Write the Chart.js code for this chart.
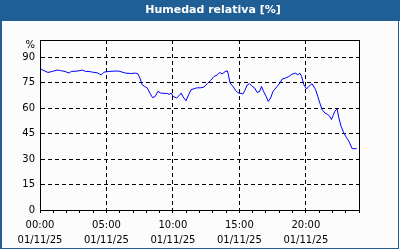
<!DOCTYPE html>
<html><head><meta charset="utf-8">
<script src="https://cdn.jsdelivr.net/npm/chart.js@4/dist/chart.umd.min.js"></script>
<style>html,body{margin:0;padding:0;background:#fbfcfb}#c{display:block}</style>
</head><body>
<canvas id="c" width="400" height="250"></canvas>
<script>
const chartTitle = 'Humedad relativa [%]';
const times = ['00:00','00:10','00:36','00:55','01:18','01:33','01:53','02:11','02:21','02:48','03:11','03:26','03:41','03:56','04:18','04:37','04:49','05:11','05:34','05:56','06:27','06:49','07:12','07:22','07:31','07:41','07:52','08:04','08:16','08:28','08:40','08:52','09:04','09:19','09:34','09:43','09:52','10:01','10:17','10:28','10:37','10:46','10:59','11:11','11:22','11:35','11:45','12:05','12:20','12:35','12:50','13:05','13:20','13:32','13:42','13:55','14:05','14:09','14:18','14:31','14:43','14:55','15:07','15:16','15:25','15:35','15:46','15:58','16:09','16:20','16:31','16:40','16:50','17:01','17:10','17:21','17:32','17:48','18:03','18:13','18:28','18:43','18:58','19:13','19:24','19:33','19:41','19:51','20:03','20:13','20:28','20:44','20:54','21:03','21:13','21:26','21:39','21:48','21:56','22:03','22:11','22:21','22:29','22:39','22:51','23:04','23:14','23:24','23:29','23:49'];
const humidity = [83.4,82.5,80.9,81.5,82.3,82.0,81.5,80.5,81.5,81.7,82.3,81.5,81.5,81.1,80.7,79.5,81.1,81.5,81.7,81.7,80.5,80.3,80.5,80.1,77.6,73.7,72.7,71.8,68.8,66.1,66.8,69.8,68.8,68.6,68.6,68.0,68.8,66.8,65.9,67.3,68.8,66.5,64.3,67.8,70.8,71.3,71.8,71.9,72.3,74.3,76.2,78.5,79.5,80.9,80.1,81.3,81.9,80.5,74.7,72.7,70.4,68.8,68.6,68.2,70.4,73.5,74.3,72.7,71.8,69.2,69.6,72.7,69.5,66.8,63.9,65.9,69.8,72.3,74.7,77.0,77.6,78.5,79.9,80.5,79.5,80.5,78.5,73.7,71.2,72.7,74.3,70.8,66.8,63.0,59.1,57.1,56.1,55.1,53.2,55.6,58.1,59.5,54.2,49.3,45.4,42.5,40.5,37.6,36.1,36.1];
const yTickValues = [0,15,30,45,60,75,90];
const unitLabel = '%';
const unitTickValue = 97;
const xLabelHours = [0,5,10,15,20];
const dateLabel = '01/11/25';

const toHours = t => { const [h,m] = t.split(':').map(Number); return h + m/60; };
const points = times.map((t,i) => ({x: toHours(t), y: humidity[i]}));
const pad2 = n => String(n).padStart(2,'0');

const frameColor = '#1f5f96';
const framePlugin = {
  id: 'frame',
  beforeDraw(chart) {
    const ctx = chart.ctx;
    ctx.save();
    ctx.fillStyle = '#fbfcfb';
    ctx.fillRect(0,0,400,250);
    ctx.fillStyle = frameColor;
    ctx.fillRect(0,0,400,21);
    ctx.fillRect(0,0,2,249);
    ctx.fillRect(398,0,1,249);
    ctx.fillRect(0,248,399,1);
    ctx.fillStyle = '#ffffff';
    ctx.font = 'bold 11px "DejaVu Sans"';
    ctx.textAlign = 'center';
    ctx.textBaseline = 'middle';
    ctx.fillText(chartTitle, 213, 10.5);
    ctx.restore();
  },
  afterDraw(chart) {
    const {left, top, right, bottom} = chart.chartArea;
    const ctx = chart.ctx;
    ctx.save();
    ctx.strokeStyle = '#000';
    ctx.lineWidth = 1;
    ctx.strokeRect(Math.round(left)+0.5, Math.round(top)+0.5, Math.round(right-left), Math.round(bottom-top));
    ctx.restore();
  }
};

new Chart(document.getElementById('c'), {
  type: 'line',
  data: { datasets: [{
    data: points,
    borderColor: '#0000ff',
    borderWidth: 1,
    pointRadius: 0,
    tension: 0,
    fill: false
  }]},
  options: {
    responsive: false,
    animation: false,
    devicePixelRatio: 1,
    layout: { padding: { top: 40, right: 41, left: 0, bottom: 0 } },
    plugins: { legend: {display:false}, title: {display:false}, tooltip: {enabled:false} },
    scales: {
      x: {
        type: 'linear', min: 0, max: 24,
        afterFit(s) { s.height = 40; },
        ticks: {
          stepSize: 1, autoSkip: false, maxRotation: 0, minRotation: 0,
          padding: 5,
          color: '#000',
          font: { family: '"DejaVu Sans"', size: 10, lineHeight: 1.5 },
          callback: v => xLabelHours.includes(v) ? [pad2(v) + ':00', dateLabel] : ''
        },
        grid: {
          color: c => (c.tick && c.tick.value % 5 === 0 && c.tick.value > 0 && c.tick.value < 24) ? '#000' : 'rgba(0,0,0,0)',
          tickColor: '#000', tickLength: 3, lineWidth: 1, drawTicks: true
        },
        border: { color: '#000', width: 1, dash: [4,3] }
      },
      y: {
        type: 'linear', min: 0, max: 100,
        afterFit(s) { s.width = 40; },
        afterBuildTicks(s) { s.ticks = [...yTickValues, unitTickValue].map(v => ({value: v})); },
        ticks: {
          stepSize: 15, padding: 5, color: '#000',
          font: { family: '"DejaVu Sans"', size: 10 },
          callback: v => v === unitTickValue ? unitLabel : String(v)
        },
        grid: {
          drawTicks: false,
          color: c => (c.tick && c.tick.value > 0 && c.tick.value <= 90) ? '#000' : 'rgba(0,0,0,0)',
          lineWidth: 1
        },
        border: { color: '#000', width: 1, dash: [4,3] }
      }
    }
  },
  plugins: [framePlugin]
});
</script>
</body></html>
